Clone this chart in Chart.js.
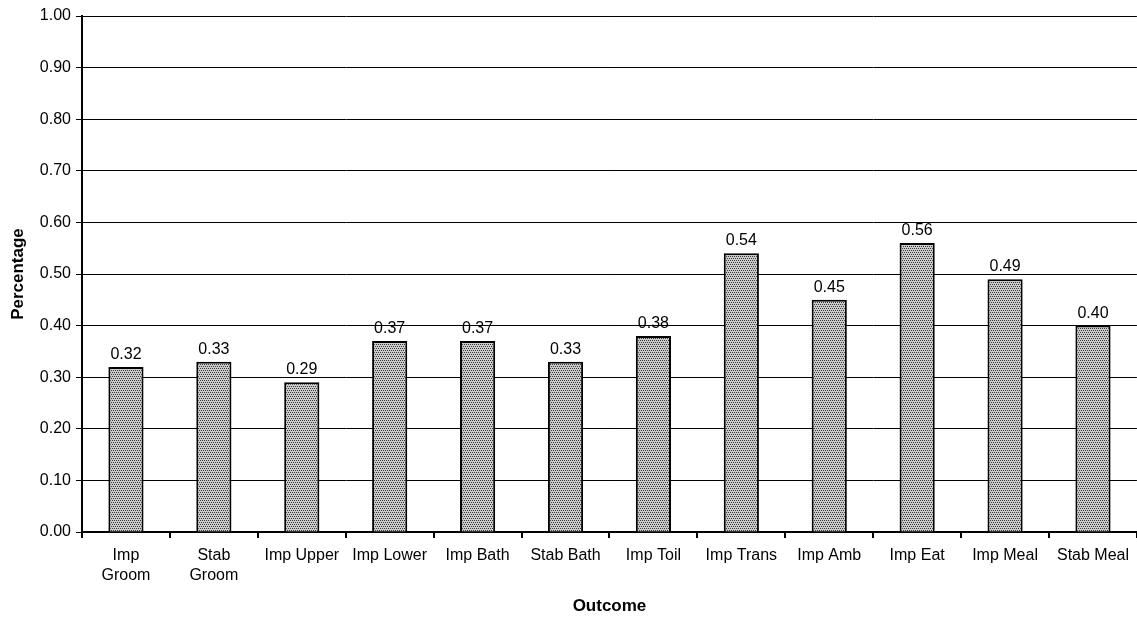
<!DOCTYPE html>
<html>
<head>
<meta charset="utf-8">
<script src="https://cdn.jsdelivr.net/npm/chart.js@4/dist/chart.umd.min.js"></script>
<style>
  html, body { margin: 0; padding: 0; background: #fff; }
  #wrap { width: 1137px; height: 617px; }
</style>
</head>
<body>
<div id="wrap"><canvas id="outcome-chart" width="1137" height="617"></canvas></div>
<script>
// Chart values
const categories = [['Imp', 'Groom'], ['Stab', 'Groom'], 'Imp Upper', 'Imp Lower', 'Imp Bath', 'Stab Bath',
    'Imp Toil', 'Imp Trans', 'Imp Amb', 'Imp Eat', 'Imp Meal', 'Stab Meal'];
const percentages = [0.32, 0.33, 0.29, 0.37, 0.37, 0.33, 0.38, 0.54, 0.45, 0.56, 0.49, 0.40];

const FONT = '"Liberation Sans", Arial, sans-serif';

// dotted grey fill like the printed chart
function makeDotPattern() {
    const c = document.createElement('canvas');
    c.width = 4;
    c.height = 4;
    const g = c.getContext('2d');
    g.fillStyle = '#cacaca';
    g.fillRect(0, 0, 4, 4);
    g.fillStyle = '#3a3a3a';
    g.fillRect(0, 0, 1, 1);
    g.fillRect(2, 0, 1, 1);
    g.fillRect(1, 2, 1, 1);
    g.fillRect(3, 2, 1, 1);
    return g.createPattern(c, 'repeat');
}

// values printed over each bar
const valueLabels = {
    id: 'valueLabels',
    afterDatasetsDraw(chart) {
        const ctx = chart.ctx;
        const meta = chart.getDatasetMeta(0);
        ctx.save();
        ctx.font = '16px ' + FONT;
        ctx.fillStyle = '#000';
        ctx.textAlign = 'center';
        ctx.textBaseline = 'alphabetic';
        meta.data.forEach((bar, i) => {
            ctx.fillText(percentages[i].toFixed(2), bar.x, bar.y - 8);
        });
        ctx.restore();
    }
};

const ctx = document.getElementById('outcome-chart').getContext('2d');
new Chart(ctx, {
    type: 'bar',
    data: {
        labels: categories,
        datasets: [{
            data: percentages,
            backgroundColor: makeDotPattern(),
            borderColor: '#000',
            borderWidth: 2,
            borderSkipped: 'bottom',
            categoryPercentage: 1,
            barPercentage: 0.4,
        }]
    },
    options: {
        responsive: false,
        animation: false,
        layout: { padding: { top: 16, right: 0, left: 0, bottom: 0 } },
        plugins: {
            legend: { display: false },
            tooltip: { enabled: false },
        },
        scales: {
            x: {
                afterFit: (scale) => { scale.height = 85; },
                grid: {
                    display: true,
                    drawOnChartArea: false,
                    offset: true,
                    color: '#000',
                    lineWidth: 2,
                    tickLength: 6,
                },
                border: { color: '#000', width: 2 },
                ticks: {
                    color: '#000',
                    padding: 8,
                    maxRotation: 0,
                    autoSkip: false,
                    font: { family: FONT, size: 16, lineHeight: 1.25 },
                },
                title: {
                    display: true,
                    text: 'Outcome',
                    color: '#000',
                    padding: { top: 0, bottom: 0 },
                    font: { family: FONT, size: 17, weight: 'bold' },
                }
            },
            y: {
                min: 0,
                max: 1,
                afterFit: (scale) => { scale.width = 82; },
                grid: {
                    color: '#000',
                    lineWidth: 1,
                    tickLength: 6,
                },
                border: { color: '#000', width: 2 },
                ticks: {
                    stepSize: 0.1,
                    color: '#000',
                    padding: 5,
                    font: { family: FONT, size: 16 },
                    callback: function(value) {
                        return value.toFixed(2);
                    }
                },
                title: {
                    display: true,
                    text: 'Percentage',
                    color: '#000',
                    padding: { top: 8, bottom: 2 },
                    font: { family: FONT, size: 17, weight: 'bold' },
                }
            }
        }
    },
    plugins: [valueLabels]
});
</script>
</body>
</html>
